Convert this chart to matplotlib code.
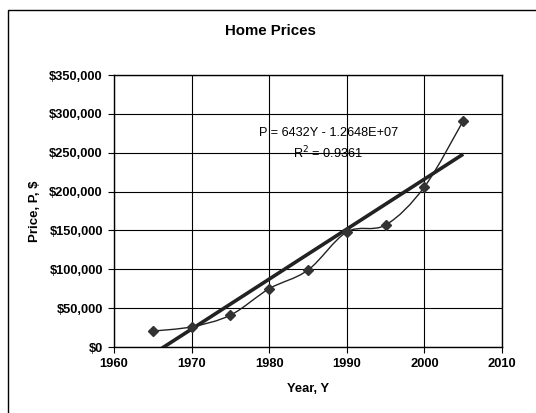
import matplotlib
matplotlib.use("Agg")
import matplotlib.pyplot as plt
from matplotlib.path import Path
from matplotlib.patches import PathPatch, Rectangle
from matplotlib.ticker import FuncFormatter
import numpy as np

plt.rcParams['font.family'] = ['Liberation Sans', 'DejaVu Sans']

years = [1965, 1970, 1975, 1980, 1985, 1990, 1995, 2000, 2005]
prices = [20500, 26000, 41000, 75000, 99000, 148000, 157000, 206000, 291000]
slope = 6432
intercept = -1.2648e7
eq_text = "P = 6432Y - 1.2648E+07"
r2_text = "R$^2$ = 0.9361"


def smooth_path(x, y):
    # Excel-style smoothed line: cubic bezier segments, catmull-rom controls
    x = np.asarray(x, float)
    y = np.asarray(y, float)
    n = len(x)
    verts = [(x[0], y[0])]
    codes = [Path.MOVETO]
    for i in range(n - 1):
        p0 = (x[max(i - 1, 0)], y[max(i - 1, 0)])
        p1 = (x[i], y[i])
        p2 = (x[i + 1], y[i + 1])
        p3 = (x[min(i + 2, n - 1)], y[min(i + 2, n - 1)])
        c1 = (p1[0] + (p2[0] - p0[0]) / 6, p1[1] + (p2[1] - p0[1]) / 6)
        c2 = (p2[0] - (p3[0] - p1[0]) / 6, p2[1] - (p3[1] - p1[1]) / 6)
        verts += [c1, c2, p2]
        codes += [Path.CURVE4] * 3
    return Path(verts, codes)


fig = plt.figure(figsize=(5.36, 4.13), dpi=100)
ax = fig.add_axes([114 / 536, 1 - 347 / 413, 388 / 536, 272 / 413])

ax.add_patch(PathPatch(smooth_path(years, prices), fill=False,
                       edgecolor='#222222', lw=1.0, zorder=3))
ax.plot(years, prices, linestyle='none', marker='D', markersize=5,
        color='#333333', zorder=4)

tx = np.array([years[0], years[-1]])
ax.plot(tx, slope * tx + intercept, color='#222222', lw=2.6, zorder=3,
        solid_capstyle='butt')

ax.set_xlim(1960, 2010)
ax.set_ylim(0, 350000)
ax.set_xticks(range(1960, 2011, 10))
ax.set_yticks(range(0, 350001, 50000))
ax.yaxis.set_major_formatter(FuncFormatter(lambda v, p: "${:,.0f}".format(v)))
ax.grid(True, color='black', lw=0.8)
ax.set_axisbelow(True)
for s in ax.spines.values():
    s.set_color('black')
    s.set_linewidth(1.0)
ax.tick_params(direction='out', length=4, width=0.8, colors='black',
               labelsize=9.3, pad=4)
for lab in ax.get_xticklabels() + ax.get_yticklabels():
    lab.set_fontweight('bold')

ax.text(1987.6, 275000, eq_text, ha='center', va='center', fontsize=9.2)
ax.text(1987.6, 249600, r2_text, ha='center', va='center', fontsize=9.2)

ax.set_xlabel("Year, Y", fontsize=9.3, fontweight='bold', labelpad=9)
ax.set_ylabel("Price, P, $", fontsize=9.5, fontweight='bold', labelpad=6)
fig.text(270 / 536, 1 - 31 / 413, "Home Prices", ha='center', va='center',
         fontsize=10.8, fontweight='bold')

fig.patches.append(Rectangle((8 / 536, -0.1), 1.2, 1 - 10 / 413 + 0.1,
                             transform=fig.transFigure, fill=False,
                             edgecolor='black', lw=1.0))

fig.savefig("out.png", dpi=100)
